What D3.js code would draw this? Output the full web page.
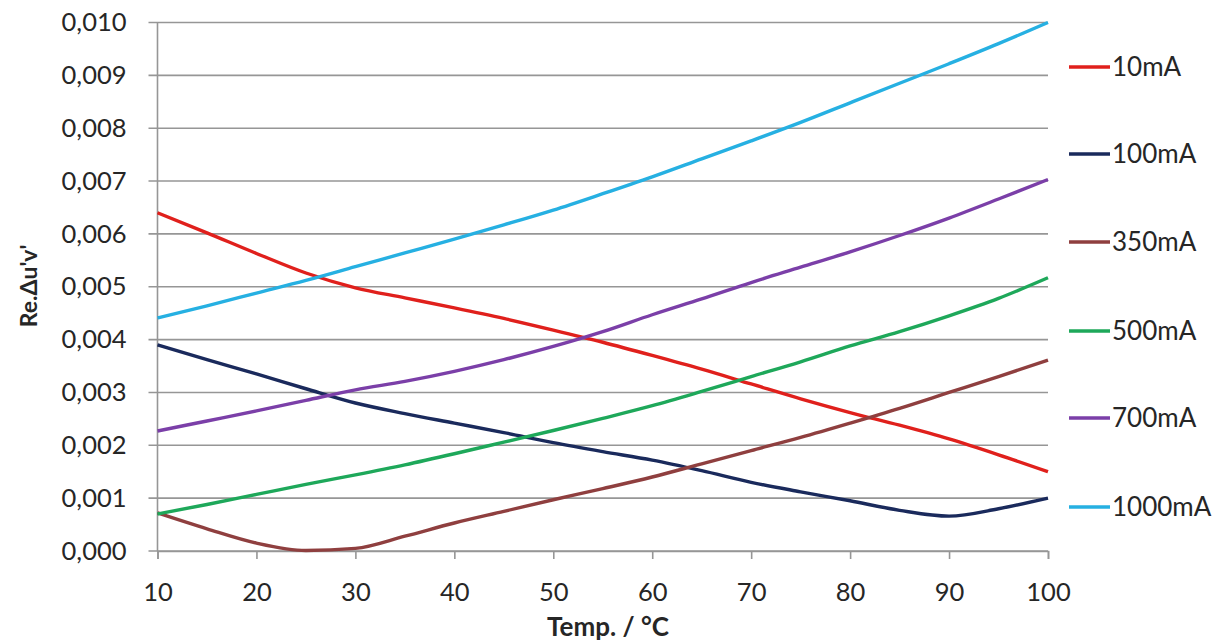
<!DOCTYPE html>
<html><head><meta charset="utf-8">
<script src="https://cdn.jsdelivr.net/npm/d3@7"></script>
<style>
body{margin:0;background:#fff;}
text{font-family:Lato,"Open Sans",sans-serif;fill:#262626;}
</style></head>
<body><svg id="c" width="1231" height="643"></svg>
<script>
const temps   = [10,15,20,25,30,35,40,45,50,55,60,65,70,75,80,85,90,95,100];
const s10mA   = [6.40,6.02,5.63,5.26,4.98,4.79,4.60,4.40,4.18,3.95,3.70,3.44,3.16,2.88,2.62,2.38,2.12,1.82,1.50];
const s100mA  = [3.90,3.62,3.35,3.07,2.80,2.60,2.42,2.24,2.05,1.88,1.72,1.52,1.30,1.12,0.95,0.77,0.66,0.80,1.00];
const s350mA  = [0.72,0.42,0.15,0.01,0.05,0.28,0.53,0.75,0.97,1.18,1.40,1.65,1.90,2.15,2.42,2.70,3.00,3.30,3.61];
const s500mA  = [0.70,0.88,1.07,1.26,1.44,1.63,1.84,2.06,2.28,2.51,2.75,3.02,3.30,3.58,3.88,4.15,4.45,4.78,5.17];
const s700mA  = [2.27,2.46,2.65,2.85,3.05,3.21,3.40,3.62,3.87,4.15,4.47,4.77,5.08,5.37,5.66,5.97,6.30,6.66,7.03];
const s1000mA = [4.41,4.64,4.88,5.12,5.38,5.64,5.90,6.17,6.45,6.76,7.08,7.42,7.76,8.11,8.48,8.85,9.22,9.60,10.0];
const valueUnit = 0.001; // values above are in thousandths
const seriesNames  = ["10mA","100mA","350mA","500mA","700mA","1000mA"];
const seriesColors = ["#e0201c","#1a2a5c","#8f3f3f","#1ea85a","#7b3fa8","#26b0e2"];
const xTicks = [10,20,30,40,50,60,70,80,90,100];
const yTicks = [0,0.001,0.002,0.003,0.004,0.005,0.006,0.007,0.008,0.009,0.010];
const xTitle = "Temp. / °C";
const yTitle = "Re.Δu'v'";
const allSeries = [s10mA,s100mA,s350mA,s500mA,s700mA,s1000mA];

const svg = d3.select("#c");
const m = {l:157.5,r:1048,t:22.5,b:551};
const x = d3.scaleLinear().domain([10,100]).range([m.l,m.r]);
const y = d3.scaleLinear().domain([0,0.010]).range([m.b,m.t]);
const fmt = d => d3.format(".3f")(d).replace(".",",");
const axisColor = "#969696";
const fs = 25.5;

// grid
const g = svg.append("g");
g.selectAll("line.grid").data(yTicks).join("line")
 .attr("x1",m.l-9).attr("x2",m.r).attr("y1",d=>y(d)).attr("y2",d=>y(d))
 .attr("stroke",axisColor).attr("stroke-width",1.6);
g.append("line").attr("x1",m.l).attr("x2",m.l).attr("y1",m.t).attr("y2",m.b).attr("stroke",axisColor).attr("stroke-width",1.6);
// x axis
const xa = svg.append("g").attr("transform",`translate(0,${m.b})`)
 .call(d3.axisBottom(x).tickValues(xTicks).tickSize(8).tickPadding(24).tickFormat(d3.format("d")));
xa.select(".domain").attr("stroke",axisColor).attr("stroke-width",1.6);
xa.selectAll(".tick line").attr("stroke",axisColor).attr("stroke-width",1.6);
xa.selectAll("text").attr("font-size",fs).attr("font-family","Lato,sans-serif").attr("fill","#262626");
// y labels
const ya = svg.append("g").attr("transform",`translate(${m.l},0)`)
 .call(d3.axisLeft(y).tickValues(yTicks).tickSize(0).tickPadding(31).tickFormat(fmt));
ya.select(".domain").remove();
ya.selectAll("text").attr("font-size",fs).attr("font-family","Lato,sans-serif").attr("fill","#262626");

// lines
const line = d3.line().x((d,i)=>x(temps[i])).y(d=>y(d*valueUnit)).curve(d3.curveMonotoneX);
allSeries.forEach((s,i)=>{
  svg.append("path").attr("d",line(s)).attr("fill","none").attr("stroke",seriesColors[i])
   .attr("stroke-width",3.4).attr("stroke-linejoin","round");
});

// legend
const legY = [67,154,242,331,418,507];
const leg = svg.append("g");
seriesNames.forEach((n,i)=>{
  leg.append("line").attr("x1",1069).attr("x2",1110).attr("y1",legY[i]).attr("y2",legY[i]).attr("stroke",seriesColors[i]).attr("stroke-width",3.4);
  leg.append("text").attr("x",1112).attr("y",legY[i]).attr("dy","0.36em").attr("font-size",26).text(n);
});

// titles
svg.append("text").attr("x",608).attr("y",636).attr("text-anchor","middle").attr("font-size",26).attr("font-weight","bold").text(xTitle);
svg.append("text").attr("transform","translate(37,286) rotate(-90)").attr("text-anchor","middle").attr("font-size",23).attr("font-weight","bold").text(yTitle);
</script></body></html>
